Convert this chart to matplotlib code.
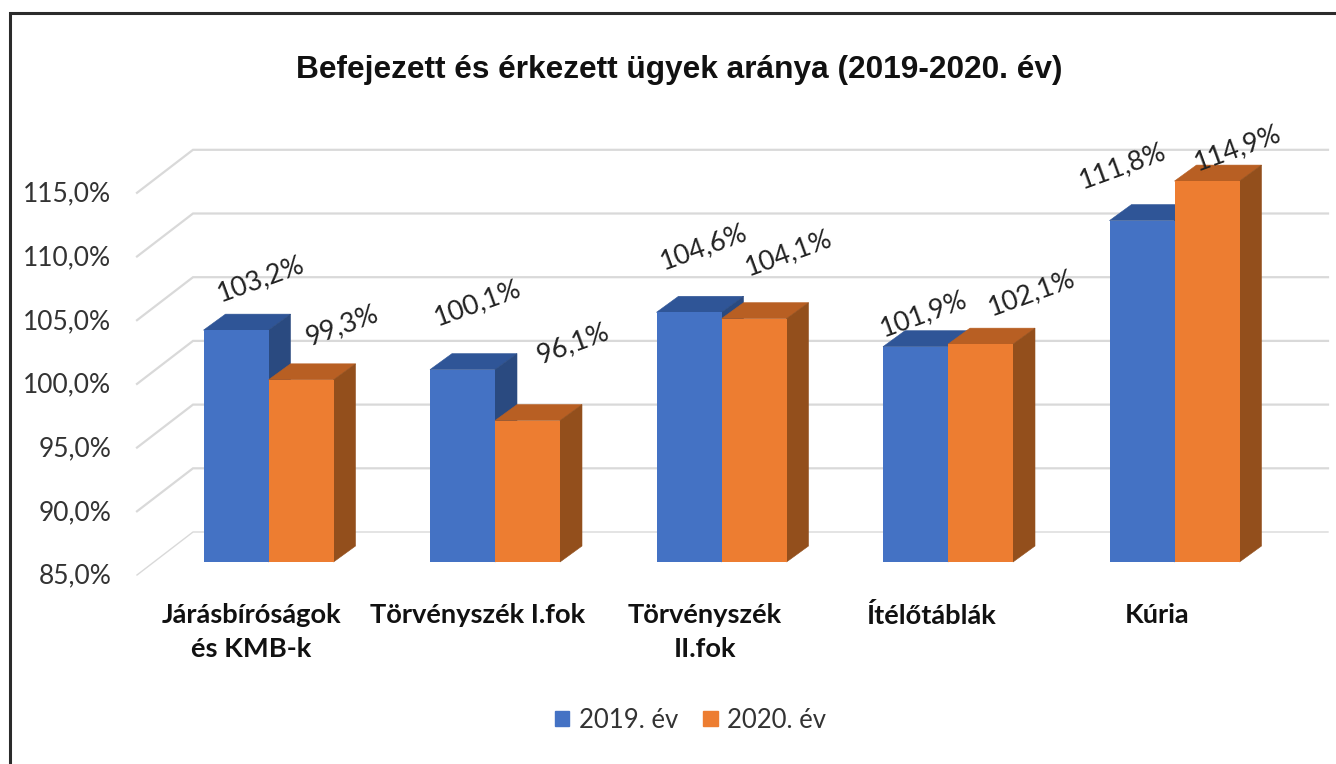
import matplotlib
matplotlib.use('Agg')
import matplotlib.pyplot as plt
from matplotlib.patches import Polygon, Rectangle
import numpy as np

# Chart data
categories = ['Járásbíróságok\nés KMB-k', 'Törvényszék I.fok', 'Törvényszék\nII.fok', 'Ítélőtáblák', 'Kúria']
values_2019 = [103.2, 100.1, 104.6, 101.9, 111.8]
values_2020 = [99.3, 96.1, 104.1, 102.1, 114.9]
y_ticks = [85, 90, 95, 100, 105, 110, 115]
series_names = ['2019. év', '2020. év']

# Label nudges from the bar top, in pixels (x right, y up)
nudge_2019 = [(25, 51), (15, 67), (15, 65), (8, 33), (-19, 55)]
nudge_2020 = [(41, 54), (46, 77), (35, 66), (51, 51), (31, 33)]

W, H = 1336, 764
CAT_PX = 226.5      # pixels per category
PCT_PX = 12.74      # pixels per percent
X0_PX = 268.5       # pixel of the first category centre
Y85_PX = 562        # pixel of the 85 % bar bottom

fig = plt.figure(figsize=(W / 100, H / 100), dpi=100)
ax = fig.add_axes([0, 0, 1, 1])
ax.set_xlim(-X0_PX / CAT_PX, (W - X0_PX) / CAT_PX)
ax.set_ylim(85 - (H - Y85_PX) / PCT_PX, 85 + Y85_PX / PCT_PX)
ax.axis('off')

bar_w = 65 / CAT_PX
depth_x = 22 / CAT_PX
depth_y = 16 / PCT_PX


def px_x(p):
    return (p - X0_PX) / CAT_PX


# Gridlines on the back wall plus the slanted part on the side wall
grid_color = '#d9d9d9'
back_shift = 30 / PCT_PX
side_drop = 43 / PCT_PX
for v in y_ticks:
    lw = 1.0 if v == 85 else 1.6
    ax.plot([px_x(137), px_x(193), px_x(1328)],
            [v + back_shift - side_drop, v + back_shift, v + back_shift],
            color=grid_color, lw=lw, zorder=1, solid_joinstyle='miter')
    ax.text(px_x(111.5), v + back_shift - side_drop - 0.1, f'{v},0%', ha='right', va='center',
            fontsize=19, family='Lato', color='#333333', zorder=6)

x = np.arange(len(categories))


def draw_series(values, offset, front, top, side, z, nudges):
    ax.bar(x + offset, np.array(values) - 85, bottom=85, width=bar_w, color=front,
           zorder=z + 1, linewidth=0)
    for i, v in enumerate(values):
        left = x[i] + offset - bar_w / 2
        right = x[i] + offset + bar_w / 2
        ax.add_patch(Polygon([(left, v), (left + depth_x, v + depth_y),
                              (right + depth_x, v + depth_y), (right, v)],
                             closed=True, facecolor=top, edgecolor=top, lw=0.4, zorder=z))
        ax.add_patch(Polygon([(right, 85), (right + depth_x, 85 + depth_y),
                              (right + depth_x, v + depth_y), (right, v)],
                             closed=True, facecolor=side, edgecolor=side, lw=0.4, zorder=z))
        label = f'{v:.1f}%'.replace('.', ',')
        ax.annotate(label, xy=(x[i] + offset, v), xytext=nudges[i], textcoords='offset pixels',
                    ha='center', va='center', rotation=20, rotation_mode='anchor',
                    fontsize=19.5, family='Lato', color='#222222', zorder=10)


draw_series(values_2019, -bar_w / 2, '#4472c4', '#2f5597', '#2a4a80', 2, nudge_2019)
draw_series(values_2020, bar_w / 2, '#ed7d31', '#b85f23', '#934f1c', 4, nudge_2020)

# Category labels
for i, name in enumerate(categories):
    ax.text(x[i] - 17 / CAT_PX, 85 - 41 / PCT_PX, name, ha='center', va='top',
            fontsize=19.6, fontweight='bold', family='Lato', color='#111111',
            linespacing=1.5, zorder=6)

# Title
fig.text(679.5 / W, 1 - 70 / H, 'Befejezett és érkezett ügyek aránya (2019-2020. év)',
         ha='center', va='center', fontsize=22.75, fontweight='bold',
         family='Liberation Sans', color='#111111')

# Legend
handles = [Rectangle((0, 0), 1, 1, color='#4472c4'), Rectangle((0, 0), 1, 1, color='#ed7d31')]
fig.legend(handles, series_names, loc='center', bbox_to_anchor=(690.5 / W, 1 - 720 / H), ncol=2,
           frameon=False, handlelength=0.57, handleheight=0.57, handletextpad=0.36,
           columnspacing=1.0, prop={'family': 'Lato', 'size': 18.5}, labelcolor='#333333')

# Outer frame of the scanned box, open towards the bottom and the right
frame_color = '#2b2b2b'
fig.add_artist(plt.Line2D([9.5 / W, 9.5 / W, 1], [0, 1 - 13 / H, 1 - 13 / H],
                          color=frame_color, lw=2.2, solid_joinstyle='miter'))

plt.savefig('out.png', dpi=100, facecolor='white')
